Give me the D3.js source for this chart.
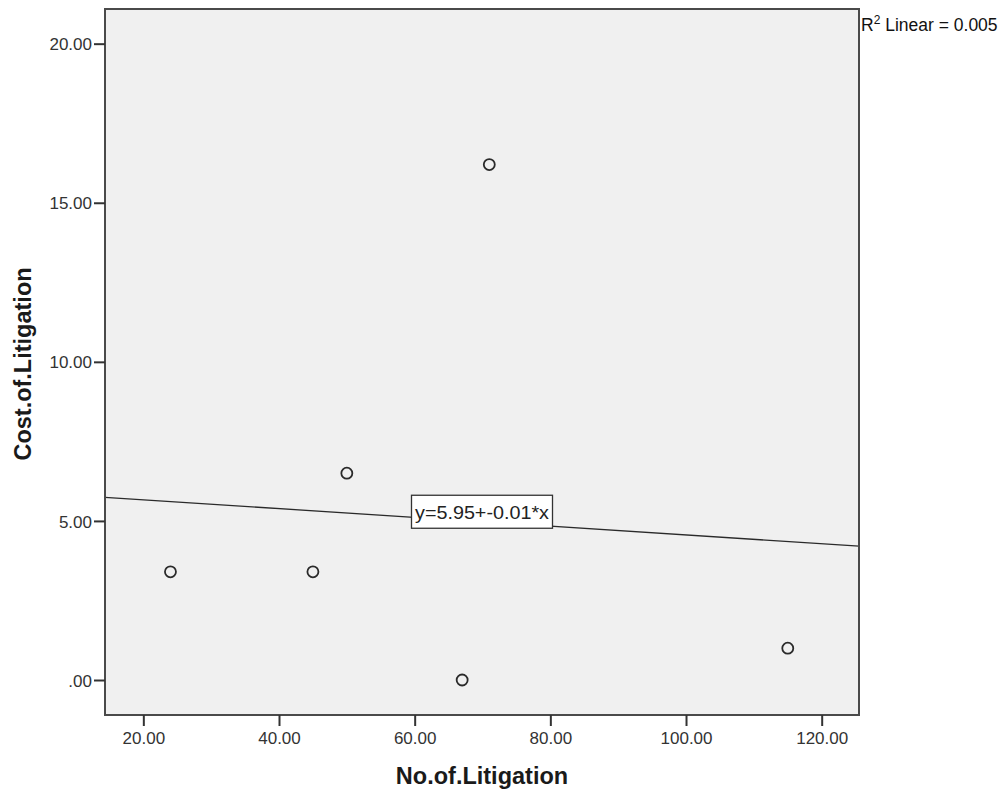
<!DOCTYPE html>
<html><head><meta charset="utf-8">
<script src="https://cdn.jsdelivr.net/npm/d3@7"></script>
<style>
body{margin:0;background:#fff;}
text{font-family:"Liberation Sans",Arial,sans-serif;}
</style></head>
<body>
<svg id="chart" width="1002" height="792"></svg>
<script>
const xValues = [24, 45, 50, 67, 71, 115];
const yValues = [3.4, 3.4, 6.5, 0, 16.2, 1.0];
const xTicks = [20, 40, 60, 80, 100, 120];
const xTickLabels = ["20.00", "40.00", "60.00", "80.00", "100.00", "120.00"];
const yTicks = [0, 5, 10, 15, 20];
const yTickLabels = [".00", "5.00", "10.00", "15.00", "20.00"];
const xTitle = "No.of.Litigation";
const yTitle = "Cost.of.Litigation";
const eqLabel = "y=5.95+-0.01*x";
const r2Text = "0.005";

const svg = d3.select("#chart");
const L = 105, R = 859, T = 9, B = 715;
const x = d3.scaleLinear().domain([14.35, 125.5]).range([L, R]);
const y = d3.scaleLinear().domain([-1.1, 21.09]).range([B, T]);
const FONT = "Liberation Sans, Arial, sans-serif";

svg.append("rect").attr("x", L).attr("y", T).attr("width", R - L).attr("height", B - T)
  .attr("fill", "#f0f0f0").attr("stroke", "none");

// regression line (least squares)
const mx = d3.mean(xValues), my = d3.mean(yValues);
const sxy = d3.sum(xValues.map((v, i) => (v - mx) * (yValues[i] - my)));
const sxx = d3.sum(xValues.map(v => (v - mx) * (v - mx)));
const slope = sxy / sxx, intercept = my - slope * mx;
const [x0, x1] = x.domain();
svg.append("line").attr("x1", x(x0)).attr("y1", y(intercept + slope * x0))
  .attr("x2", x(x1)).attr("y2", y(intercept + slope * x1))
  .attr("stroke", "#2a2a2a").attr("stroke-width", 1.3);

// points
svg.selectAll("circle.pt").data(xValues).enter().append("circle")
  .attr("class", "pt")
  .attr("cx", d => x(d)).attr("cy", (d, i) => y(yValues[i])).attr("r", 5.5)
  .attr("fill", "none").attr("stroke", "#2a2a2a").attr("stroke-width", 1.8);

// equation label
const xm = (x0 + x1) / 2;
const lx = x(xm), ly = y(intercept + slope * xm) - 10;
svg.append("rect").attr("x", lx - 70.5).attr("y", ly - 16.5).attr("width", 141).attr("height", 33)
  .attr("fill", "#fff").attr("stroke", "#333").attr("stroke-width", 1.3);
svg.append("text").attr("x", lx).attr("y", ly + 7.5).attr("text-anchor", "middle")
  .attr("font-size", 19).attr("fill", "#222").attr("textLength", 134)
  .attr("lengthAdjust", "spacingAndGlyphs").text(eqLabel);

// border
svg.append("rect").attr("x", L).attr("y", T).attr("width", R - L).attr("height", B - T)
  .attr("fill", "none").attr("stroke", "#4a4a4a").attr("stroke-width", 2);

// axes
const xAxis = d3.axisBottom(x).tickValues(xTicks).tickSize(11).tickSizeOuter(0)
  .tickFormat((d, i) => xTickLabels[i]);
const gx = svg.append("g").attr("transform", `translate(0,${B})`).call(xAxis);
gx.select(".domain").remove();
gx.selectAll(".tick line").attr("stroke", "#333").attr("stroke-width", 2);
gx.selectAll(".tick text").attr("font-size", 17).attr("fill", "#333")
  .attr("font-family", FONT).attr("y", 29).attr("dy", 0);

const yAxis = d3.axisLeft(y).tickValues(yTicks).tickSize(11).tickSizeOuter(0)
  .tickFormat((d, i) => yTickLabels[i]);
const gy = svg.append("g").attr("transform", `translate(${L},0)`).call(yAxis);
gy.select(".domain").remove();
gy.selectAll(".tick line").attr("stroke", "#333").attr("stroke-width", 2);
gy.selectAll(".tick text").attr("font-size", 17).attr("fill", "#333")
  .attr("font-family", FONT).attr("x", -13).attr("dy", "0.36em");

// titles
svg.append("text").attr("x", 482).attr("y", 784).attr("text-anchor", "middle")
  .attr("font-size", 23.5).attr("font-weight", "bold").attr("fill", "#1a1a1a").text(xTitle);
svg.append("text").attr("transform", `translate(31,364) rotate(-90)`)
  .attr("text-anchor", "middle").attr("font-size", 23.5).attr("font-weight", "bold")
  .attr("fill", "#1a1a1a").text(yTitle);

// R2
const r2 = svg.append("text").attr("x", 861).attr("y", 31).attr("font-size", 17.5).attr("fill", "#111");
r2.append("tspan").text("R");
r2.append("tspan").attr("dy", -7).attr("font-size", 12).text("2");
r2.append("tspan").attr("dy", 7).text(" Linear = " + r2Text);
</script>
</body></html>
